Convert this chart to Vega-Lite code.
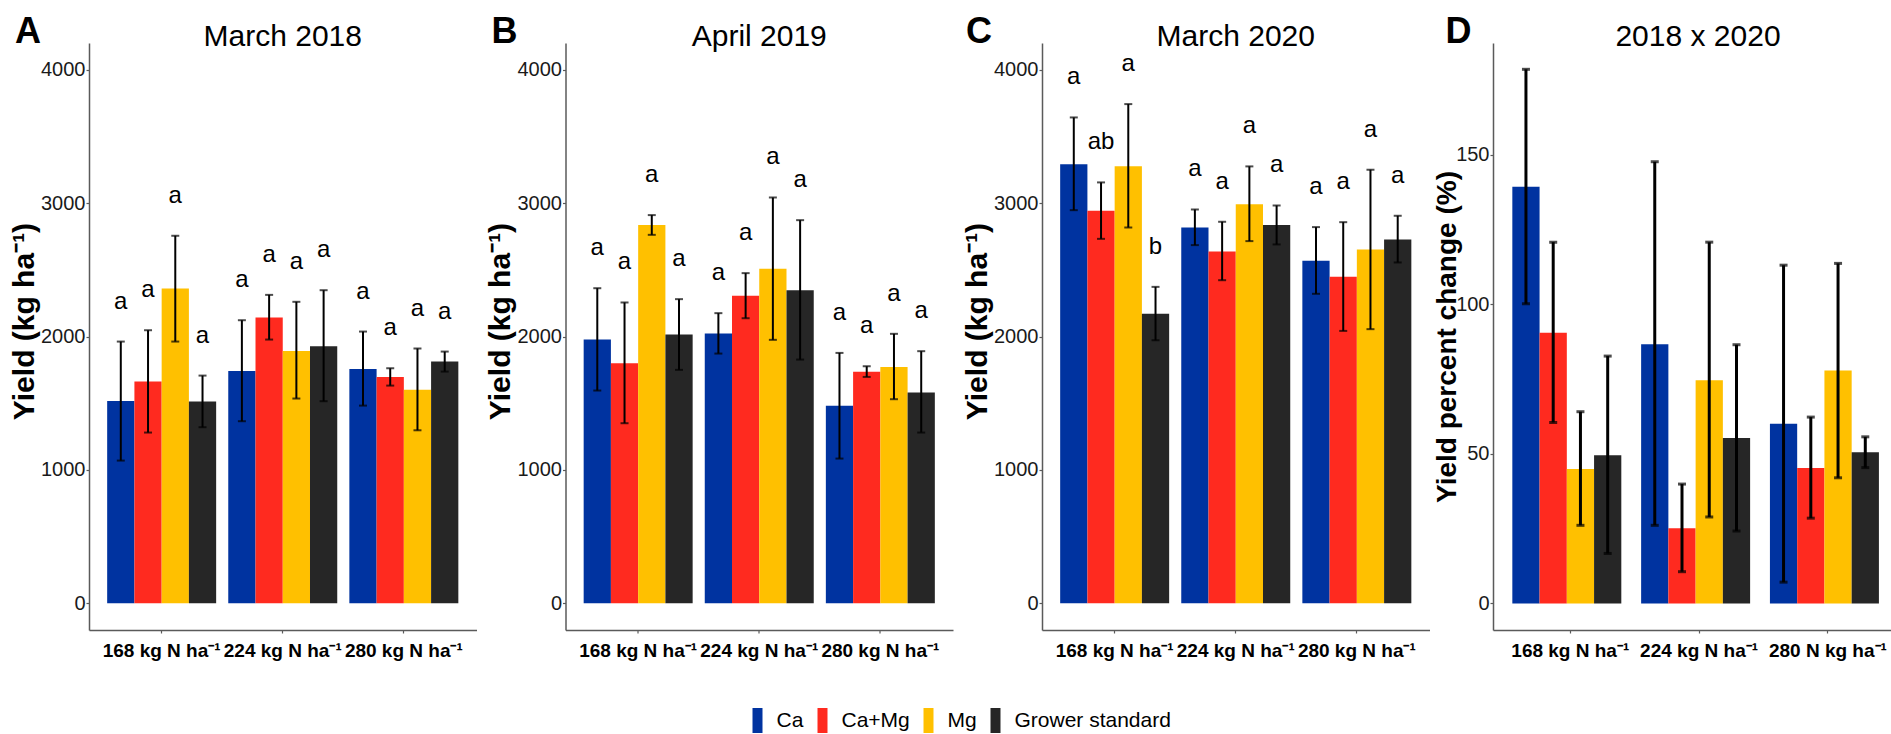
{
  "$schema": "https://vega.github.io/schema/vega-lite/v6.json",
  "background": "white",
  "padding": {"left": 9, "top": 14, "right": 0, "bottom": 0},
  "datasets": {
    "yield": [
      {"panel": "A", "n": "168 kg N ha⁻¹", "trt": "Ca", "mean": 1517, "lo": 1070, "hi": 1962, "letter": "a"},
      {"panel": "A", "n": "168 kg N ha⁻¹", "trt": "Ca+Mg", "mean": 1662, "lo": 1280, "hi": 2047, "letter": "a"},
      {"panel": "A", "n": "168 kg N ha⁻¹", "trt": "Mg", "mean": 2360, "lo": 1962, "hi": 2755, "letter": "a"},
      {"panel": "A", "n": "168 kg N ha⁻¹", "trt": "Grower standard", "mean": 1512, "lo": 1320, "hi": 1707, "letter": "a"},
      {"panel": "A", "n": "224 kg N ha⁻¹", "trt": "Ca", "mean": 1742, "lo": 1365, "hi": 2122, "letter": "a"},
      {"panel": "A", "n": "224 kg N ha⁻¹", "trt": "Ca+Mg", "mean": 2142, "lo": 1977, "hi": 2312, "letter": "a"},
      {"panel": "A", "n": "224 kg N ha⁻¹", "trt": "Mg", "mean": 1892, "lo": 1535, "hi": 2260, "letter": "a"},
      {"panel": "A", "n": "224 kg N ha⁻¹", "trt": "Grower standard", "mean": 1927, "lo": 1515, "hi": 2347, "letter": "a"},
      {"panel": "A", "n": "280 kg N ha⁻¹", "trt": "Ca", "mean": 1757, "lo": 1482, "hi": 2037, "letter": "a"},
      {"panel": "A", "n": "280 kg N ha⁻¹", "trt": "Ca+Mg", "mean": 1697, "lo": 1632, "hi": 1762, "letter": "a"},
      {"panel": "A", "n": "280 kg N ha⁻¹", "trt": "Mg", "mean": 1600, "lo": 1297, "hi": 1910, "letter": "a"},
      {"panel": "A", "n": "280 kg N ha⁻¹", "trt": "Grower standard", "mean": 1812, "lo": 1737, "hi": 1887, "letter": "a"},
      {"panel": "B", "n": "168 kg N ha⁻¹", "trt": "Ca", "mean": 1977, "lo": 1595, "hi": 2362, "letter": "a"},
      {"panel": "B", "n": "168 kg N ha⁻¹", "trt": "Ca+Mg", "mean": 1800, "lo": 1350, "hi": 2255, "letter": "a"},
      {"panel": "B", "n": "168 kg N ha⁻¹", "trt": "Mg", "mean": 2835, "lo": 2762, "hi": 2910, "letter": "a"},
      {"panel": "B", "n": "168 kg N ha⁻¹", "trt": "Grower standard", "mean": 2015, "lo": 1750, "hi": 2280, "letter": "a"},
      {"panel": "B", "n": "224 kg N ha⁻¹", "trt": "Ca", "mean": 2022, "lo": 1872, "hi": 2175, "letter": "a"},
      {"panel": "B", "n": "224 kg N ha⁻¹", "trt": "Ca+Mg", "mean": 2305, "lo": 2137, "hi": 2475, "letter": "a"},
      {"panel": "B", "n": "224 kg N ha⁻¹", "trt": "Mg", "mean": 2507, "lo": 1975, "hi": 3042, "letter": "a"},
      {"panel": "B", "n": "224 kg N ha⁻¹", "trt": "Grower standard", "mean": 2347, "lo": 1827, "hi": 2872, "letter": "a"},
      {"panel": "B", "n": "280 kg N ha⁻¹", "trt": "Ca", "mean": 1480, "lo": 1085, "hi": 1877, "letter": "a"},
      {"panel": "B", "n": "280 kg N ha⁻¹", "trt": "Ca+Mg", "mean": 1735, "lo": 1697, "hi": 1777, "letter": "a"},
      {"panel": "B", "n": "280 kg N ha⁻¹", "trt": "Mg", "mean": 1772, "lo": 1530, "hi": 2020, "letter": "a"},
      {"panel": "B", "n": "280 kg N ha⁻¹", "trt": "Grower standard", "mean": 1580, "lo": 1280, "hi": 1890, "letter": "a"},
      {"panel": "C", "n": "168 kg N ha⁻¹", "trt": "Ca", "mean": 3292, "lo": 2947, "hi": 3642, "letter": "a"},
      {"panel": "C", "n": "168 kg N ha⁻¹", "trt": "Ca+Mg", "mean": 2942, "lo": 2732, "hi": 3155, "letter": "ab"},
      {"panel": "C", "n": "168 kg N ha⁻¹", "trt": "Mg", "mean": 3277, "lo": 2817, "hi": 3742, "letter": "a"},
      {"panel": "C", "n": "168 kg N ha⁻¹", "trt": "Grower standard", "mean": 2170, "lo": 1972, "hi": 2372, "letter": "b"},
      {"panel": "C", "n": "224 kg N ha⁻¹", "trt": "Ca", "mean": 2817, "lo": 2685, "hi": 2952, "letter": "a"},
      {"panel": "C", "n": "224 kg N ha⁻¹", "trt": "Ca+Mg", "mean": 2637, "lo": 2422, "hi": 2860, "letter": "a"},
      {"panel": "C", "n": "224 kg N ha⁻¹", "trt": "Mg", "mean": 2992, "lo": 2715, "hi": 3275, "letter": "a"},
      {"panel": "C", "n": "224 kg N ha⁻¹", "trt": "Grower standard", "mean": 2835, "lo": 2690, "hi": 2982, "letter": "a"},
      {"panel": "C", "n": "280 kg N ha⁻¹", "trt": "Ca", "mean": 2567, "lo": 2320, "hi": 2820, "letter": "a"},
      {"panel": "C", "n": "280 kg N ha⁻¹", "trt": "Ca+Mg", "mean": 2447, "lo": 2042, "hi": 2857, "letter": "a"},
      {"panel": "C", "n": "280 kg N ha⁻¹", "trt": "Mg", "mean": 2652, "lo": 2055, "hi": 3250, "letter": "a"},
      {"panel": "C", "n": "280 kg N ha⁻¹", "trt": "Grower standard", "mean": 2727, "lo": 2555, "hi": 2905, "letter": "a"},
      {"panel": "D", "n": "168 kg N ha⁻¹", "trt": "Ca", "mean": 139.3, "lo": 100.2, "hi": 178.6},
      {"panel": "D", "n": "168 kg N ha⁻¹", "trt": "Ca+Mg", "mean": 90.5, "lo": 60.5, "hi": 120.8},
      {"panel": "D", "n": "168 kg N ha⁻¹", "trt": "Mg", "mean": 44.9, "lo": 26.1, "hi": 64.1},
      {"panel": "D", "n": "168 kg N ha⁻¹", "trt": "Grower standard", "mean": 49.5, "lo": 16.7, "hi": 82.7},
      {"panel": "D", "n": "224 kg N ha⁻¹", "trt": "Ca", "mean": 86.7, "lo": 26.1, "hi": 147.7},
      {"panel": "D", "n": "224 kg N ha⁻¹", "trt": "Ca+Mg", "mean": 25.1, "lo": 10.6, "hi": 39.9},
      {"panel": "D", "n": "224 kg N ha⁻¹", "trt": "Mg", "mean": 74.6, "lo": 28.9, "hi": 120.8},
      {"panel": "D", "n": "224 kg N ha⁻¹", "trt": "Grower standard", "mean": 55.3, "lo": 24.2, "hi": 86.5},
      {"panel": "D", "n": "280 N kg ha⁻¹", "trt": "Ca", "mean": 60.1, "lo": 7.1, "hi": 113.1},
      {"panel": "D", "n": "280 N kg ha⁻¹", "trt": "Ca+Mg", "mean": 45.3, "lo": 28.5, "hi": 62.3},
      {"panel": "D", "n": "280 N kg ha⁻¹", "trt": "Mg", "mean": 77.9, "lo": 42.0, "hi": 113.7},
      {"panel": "D", "n": "280 N kg ha⁻¹", "trt": "Grower standard", "mean": 50.5, "lo": 45.4, "hi": 55.7}
    ]
  },
  "data": {"name": "yield"},
  "spacing": 8.5,
  "hconcat": [
    {
      "title": {"text": "A", "anchor": "start", "frame": "bounds", "fontSize": 36, "fontWeight": "bold", "baseline": "alphabetic", "offset": -57, "dx": 6},
      "vconcat": [
        {
          "width": 387.5, "height": 587,
          "title": {"text": "March 2018", "anchor": "middle", "frame": "group", "fontSize": 30, "fontWeight": "normal", "baseline": "alphabetic", "offset": -33},
          "transform": [{"filter": "datum.panel === 'A'"}],
          "encoding": {
            "x": {"field": "n", "type": "nominal", "sort": null, "title": null, "scale": {"paddingInner": 0.1, "paddingOuter": 0.15}},
            "xOffset": {"field": "trt", "type": "nominal", "sort": ["Ca", "Ca+Mg", "Mg", "Grower standard"], "scale": {"paddingInner": 0, "paddingOuter": 0}}
          },
          "layer": [
            {"mark": {"type": "bar"}, "encoding": {
              "y": {"field": "mean", "type": "quantitative", "title": "Yield (kg ha⁻¹)", "scale": {"domain": [-200, 4200], "nice": false, "zero": false},
                "axis": {"values": [0, 1000, 2000, 3000, 4000], "format": "d", "minExtent": 49, "maxExtent": 49, "titlePadding": 7, "titleY": 278, "titleFontSize": 30}},
              "y2": {"datum": 0},
              "color": {"field": "trt", "type": "nominal", "title": null, "sort": ["Ca", "Ca+Mg", "Mg", "Grower standard"],
                "scale": {"domain": ["Ca", "Ca+Mg", "Mg", "Grower standard"], "range": ["#0033A0", "#FF2A1F", "#FFC000", "#262626"]},
                "legend": {"orient": "none", "legendX": 656, "legendY": 665, "direction": "horizontal", "symbolType": "M-0.4,-1H0.4V1H-0.4Z", "symbolSize": 625, "symbolStrokeWidth": 0, "symbolOpacity": 1, "labelFontSize": 21, "labelColor": "#000000", "labelOffset": 6.5, "columnPadding": 6, "labelBaseline": "middle"}}
            }},
            {"mark": {"type": "rule", "color": "#000000", "strokeWidth": 2}, "encoding": {"y": {"field": "lo", "type": "quantitative", "title": "Yield (kg ha⁻¹)"}, "y2": {"field": "hi"}}},
            {"mark": {"type": "tick", "orient": "horizontal", "color": "#000000", "size": 8, "thickness": 2}, "encoding": {"y": {"field": "lo", "type": "quantitative", "title": "Yield (kg ha⁻¹)"}}},
            {"mark": {"type": "tick", "orient": "horizontal", "color": "#000000", "size": 8, "thickness": 2}, "encoding": {"y": {"field": "hi", "type": "quantitative", "title": "Yield (kg ha⁻¹)"}}},
            {"mark": {"type": "text", "fontSize": 24, "baseline": "alphabetic", "dy": -33, "color": "#000000"}, "encoding": {"y": {"field": "hi", "type": "quantitative", "title": "Yield (kg ha⁻¹)"}, "text": {"field": "letter"}}}
          ]
        }
      ]
    },
    {
      "title": {"text": "B", "anchor": "start", "frame": "bounds", "fontSize": 36, "fontWeight": "bold", "baseline": "alphabetic", "offset": -57, "dx": 6},
      "vconcat": [
        {
          "width": 387.5, "height": 587,
          "title": {"text": "April 2019", "anchor": "middle", "frame": "group", "fontSize": 30, "fontWeight": "normal", "baseline": "alphabetic", "offset": -33},
          "transform": [{"filter": "datum.panel === 'B'"}],
          "encoding": {
            "x": {"field": "n", "type": "nominal", "sort": null, "title": null, "scale": {"paddingInner": 0.1, "paddingOuter": 0.15}},
            "xOffset": {"field": "trt", "type": "nominal", "sort": ["Ca", "Ca+Mg", "Mg", "Grower standard"], "scale": {"paddingInner": 0, "paddingOuter": 0}}
          },
          "layer": [
            {"mark": {"type": "bar"}, "encoding": {
              "y": {"field": "mean", "type": "quantitative", "title": "Yield (kg ha⁻¹)", "scale": {"domain": [-200, 4200], "nice": false, "zero": false},
                "axis": {"values": [0, 1000, 2000, 3000, 4000], "format": "d", "minExtent": 49, "maxExtent": 49, "titlePadding": 7, "titleY": 278, "titleFontSize": 30}},
              "y2": {"datum": 0},
              "color": {"field": "trt", "type": "nominal", "title": null, "sort": ["Ca", "Ca+Mg", "Mg", "Grower standard"],
                "scale": {"domain": ["Ca", "Ca+Mg", "Mg", "Grower standard"], "range": ["#0033A0", "#FF2A1F", "#FFC000", "#262626"]},
                "legend": {"orient": "none", "legendX": 656, "legendY": 665, "direction": "horizontal", "symbolType": "M-0.4,-1H0.4V1H-0.4Z", "symbolSize": 625, "symbolStrokeWidth": 0, "symbolOpacity": 1, "labelFontSize": 21, "labelColor": "#000000", "labelOffset": 6.5, "columnPadding": 6, "labelBaseline": "middle"}}
            }},
            {"mark": {"type": "rule", "color": "#000000", "strokeWidth": 2}, "encoding": {"y": {"field": "lo", "type": "quantitative", "title": "Yield (kg ha⁻¹)"}, "y2": {"field": "hi"}}},
            {"mark": {"type": "tick", "orient": "horizontal", "color": "#000000", "size": 8, "thickness": 2}, "encoding": {"y": {"field": "lo", "type": "quantitative", "title": "Yield (kg ha⁻¹)"}}},
            {"mark": {"type": "tick", "orient": "horizontal", "color": "#000000", "size": 8, "thickness": 2}, "encoding": {"y": {"field": "hi", "type": "quantitative", "title": "Yield (kg ha⁻¹)"}}},
            {"mark": {"type": "text", "fontSize": 24, "baseline": "alphabetic", "dy": -33, "color": "#000000"}, "encoding": {"y": {"field": "hi", "type": "quantitative", "title": "Yield (kg ha⁻¹)"}, "text": {"field": "letter"}}}
          ]
        }
      ]
    },
    {
      "spacing": 3,
      "hconcat": [
        {
          "title": {"text": "C", "anchor": "start", "frame": "bounds", "fontSize": 36, "fontWeight": "bold", "baseline": "alphabetic", "offset": -57, "dx": 4},
          "vconcat": [
            {
              "width": 387.5, "height": 587,
              "title": {"text": "March 2020", "anchor": "middle", "frame": "group", "fontSize": 30, "fontWeight": "normal", "baseline": "alphabetic", "offset": -33},
              "transform": [{"filter": "datum.panel === 'C'"}],
              "encoding": {
                "x": {"field": "n", "type": "nominal", "sort": null, "title": null, "scale": {"paddingInner": 0.1, "paddingOuter": 0.15}},
                "xOffset": {"field": "trt", "type": "nominal", "sort": ["Ca", "Ca+Mg", "Mg", "Grower standard"], "scale": {"paddingInner": 0, "paddingOuter": 0}}
              },
              "layer": [
                {"mark": {"type": "bar"}, "encoding": {
                  "y": {"field": "mean", "type": "quantitative", "title": "Yield (kg ha⁻¹)", "scale": {"domain": [-200, 4200], "nice": false, "zero": false},
                    "axis": {"values": [0, 1000, 2000, 3000, 4000], "format": "d", "minExtent": 49, "maxExtent": 49, "titlePadding": 7, "titleY": 278, "titleFontSize": 30}},
                  "y2": {"datum": 0},
                  "color": {"field": "trt", "type": "nominal", "title": null, "sort": ["Ca", "Ca+Mg", "Mg", "Grower standard"],
                    "scale": {"domain": ["Ca", "Ca+Mg", "Mg", "Grower standard"], "range": ["#0033A0", "#FF2A1F", "#FFC000", "#262626"]},
                    "legend": {"orient": "none", "legendX": 656, "legendY": 665, "direction": "horizontal", "symbolType": "M-0.4,-1H0.4V1H-0.4Z", "symbolSize": 625, "symbolStrokeWidth": 0, "symbolOpacity": 1, "labelFontSize": 21, "labelColor": "#000000", "labelOffset": 6.5, "columnPadding": 6, "labelBaseline": "middle"}}
                }},
                {"mark": {"type": "rule", "color": "#000000", "strokeWidth": 2}, "encoding": {"y": {"field": "lo", "type": "quantitative", "title": "Yield (kg ha⁻¹)"}, "y2": {"field": "hi"}}},
                {"mark": {"type": "tick", "orient": "horizontal", "color": "#000000", "size": 8, "thickness": 2}, "encoding": {"y": {"field": "lo", "type": "quantitative", "title": "Yield (kg ha⁻¹)"}}},
                {"mark": {"type": "tick", "orient": "horizontal", "color": "#000000", "size": 8, "thickness": 2}, "encoding": {"y": {"field": "hi", "type": "quantitative", "title": "Yield (kg ha⁻¹)"}}},
                {"mark": {"type": "text", "fontSize": 24, "baseline": "alphabetic", "dy": -33, "color": "#000000"}, "encoding": {"y": {"field": "hi", "type": "quantitative", "title": "Yield (kg ha⁻¹)"}, "text": {"field": "letter"}}}
              ]
            }
          ]
        },
        {
          "title": {"text": "D", "anchor": "start", "frame": "bounds", "fontSize": 36, "fontWeight": "bold", "baseline": "alphabetic", "offset": -57, "dx": 12},
          "vconcat": [
            {
              "width": 400, "height": 587,
              "title": {"text": "2018 x 2020", "anchor": "middle", "frame": "group", "fontSize": 30, "fontWeight": "normal", "baseline": "alphabetic", "offset": -33, "dx": 5},
              "transform": [{"filter": "datum.panel === 'D'"}],
              "encoding": {
                "x": {"field": "n", "type": "nominal", "sort": null, "title": null, "scale": {"paddingInner": 0.1, "paddingOuter": 0.1028, "align": 0.73}},
                "xOffset": {"field": "trt", "type": "nominal", "sort": ["Ca", "Ca+Mg", "Mg", "Grower standard"], "scale": {"paddingInner": 0, "paddingOuter": 0}}
              },
              "layer": [
                {"mark": {"type": "bar"}, "encoding": {
                  "y": {"field": "mean", "type": "quantitative", "title": "Yield percent change (%)", "scale": {"domain": [-8.9, 187.4], "nice": false, "zero": false},
                    "axis": {"values": [0, 50, 100, 150], "format": "d", "minExtent": 35, "maxExtent": 35, "titlePadding": 2.5}},
                  "y2": {"datum": 0},
                  "color": {"field": "trt", "type": "nominal", "title": null, "sort": ["Ca", "Ca+Mg", "Mg", "Grower standard"],
                    "scale": {"domain": ["Ca", "Ca+Mg", "Mg", "Grower standard"], "range": ["#0033A0", "#FF2A1F", "#FFC000", "#262626"]},
                    "legend": {"orient": "none", "legendX": 656, "legendY": 665, "direction": "horizontal", "symbolType": "M-0.4,-1H0.4V1H-0.4Z", "symbolSize": 625, "symbolStrokeWidth": 0, "symbolOpacity": 1, "labelFontSize": 21, "labelColor": "#000000", "labelOffset": 6.5, "columnPadding": 6, "labelBaseline": "middle"}}
                }},
                {"mark": {"type": "rule", "color": "#000000", "strokeWidth": 3}, "encoding": {"y": {"field": "lo", "type": "quantitative", "title": "Yield percent change (%)"}, "y2": {"field": "hi"}}},
                {"mark": {"type": "tick", "orient": "horizontal", "color": "#000000", "size": 8, "thickness": 3}, "encoding": {"y": {"field": "lo", "type": "quantitative", "title": "Yield percent change (%)"}}},
                {"mark": {"type": "tick", "orient": "horizontal", "color": "#000000", "size": 8, "thickness": 3}, "encoding": {"y": {"field": "hi", "type": "quantitative", "title": "Yield percent change (%)"}}}
              ]
            }
          ]
        }
      ]
    }
  ],
  "config": {
    "font": "Liberation Sans",
    "view": {"stroke": null},
    "title": {"color": "#000000", "font": "Liberation Sans"},
    "text": {"font": "Liberation Sans"},
    "legend": {"labelFont": "Liberation Sans"},
    "axis": {"grid": false, "domainColor": "#5a5a5a", "domainWidth": 1.5, "tickColor": "#5a5a5a", "tickWidth": 1.2, "tickSize": 3, "labelColor": "#1a1a1a"},
    "axisY": {"labelFont": "Liberation Sans", "labelFontSize": 20, "labelPadding": 1, "titleFont": "Liberation Sans", "titleFontSize": 28, "titleFontWeight": "bold", "titleColor": "#000000", "titleBaseline": "alphabetic"},
    "axisX": {"labelFont": "Liberation Sans", "labelFontSize": 19, "labelFontWeight": "bold", "labelColor": "#000000", "labelAngle": 0, "labelPadding": 8}
  }
}
